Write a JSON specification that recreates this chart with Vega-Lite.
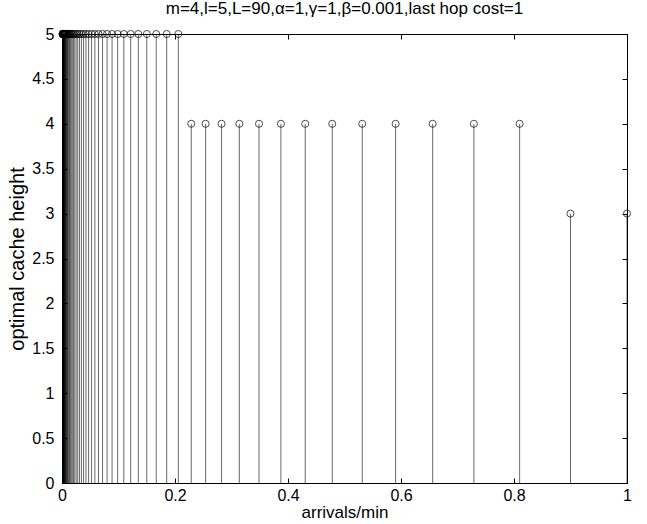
{
  "$schema": "https://vega.github.io/schema/vega-lite/v6.json",
  "width": 565,
  "height": 449,
  "autosize": {"type": "none"},
  "padding": {"left": 62, "top": 34, "right": 20, "bottom": 41},
  "background": "white",
  "title": {
    "text": "m=4,l=5,L=90,α=1,γ=1,β=0.001,last hop cost=1",
    "font": "Liberation Sans",
    "fontSize": 17,
    "fontWeight": "normal",
    "color": "black",
    "offset": 8
  },
  "config": {
    "view": {"stroke": "black", "strokeWidth": 1},
    "axis": {
      "labelFont": "Liberation Sans",
      "titleFont": "Liberation Sans",
      "labelFontSize": 16,
      "titleFontSize": 17,
      "titleFontWeight": "normal",
      "labelColor": "black",
      "titleColor": "black",
      "domainColor": "black",
      "tickColor": "black",
      "grid": false
    }
  },
  "data": {
    "values": [
      {"x": 1, "h": 3},
      {"x": 0.9, "h": 3},
      {"x": 0.81, "h": 4},
      {"x": 0.729, "h": 4},
      {"x": 0.6561, "h": 4},
      {"x": 0.59049, "h": 4},
      {"x": 0.531441, "h": 4},
      {"x": 0.4782969, "h": 4},
      {"x": 0.43046721, "h": 4},
      {"x": 0.387420489, "h": 4},
      {"x": 0.3486784401, "h": 4},
      {"x": 0.31381059609, "h": 4},
      {"x": 0.282429536, "h": 4},
      {"x": 0.254186583, "h": 4},
      {"x": 0.228767925, "h": 4},
      {"x": 0.205891132, "h": 5},
      {"x": 0.185302019, "h": 5},
      {"x": 0.166771817, "h": 5},
      {"x": 0.150094635, "h": 5},
      {"x": 0.135085172, "h": 5},
      {"x": 0.121576655, "h": 5},
      {"x": 0.109418989, "h": 5},
      {"x": 0.09847709, "h": 5},
      {"x": 0.088629381, "h": 5},
      {"x": 0.079766443, "h": 5},
      {"x": 0.071789799, "h": 5},
      {"x": 0.064610819, "h": 5},
      {"x": 0.058149737, "h": 5},
      {"x": 0.052334763, "h": 5},
      {"x": 0.047101287, "h": 5},
      {"x": 0.042391158, "h": 5},
      {"x": 0.038152042, "h": 5},
      {"x": 0.034336838, "h": 5},
      {"x": 0.030903154, "h": 5},
      {"x": 0.027812839, "h": 5},
      {"x": 0.025031555, "h": 5},
      {"x": 0.0225284, "h": 5},
      {"x": 0.02027556, "h": 5},
      {"x": 0.018248004, "h": 5},
      {"x": 0.016423203, "h": 5},
      {"x": 0.014780883, "h": 5},
      {"x": 0.013302795, "h": 5},
      {"x": 0.011972515, "h": 5},
      {"x": 0.010775264, "h": 5},
      {"x": 0.009697737, "h": 5},
      {"x": 0.008727964, "h": 5},
      {"x": 0.007855167, "h": 5},
      {"x": 0.00706965, "h": 5},
      {"x": 0.006362685, "h": 5},
      {"x": 0.005726417, "h": 5},
      {"x": 0.005153775, "h": 5},
      {"x": 0.004638398, "h": 5},
      {"x": 0.004174558, "h": 5},
      {"x": 0.003757102, "h": 5},
      {"x": 0.003381392, "h": 5},
      {"x": 0.003043253, "h": 5},
      {"x": 0.002738927, "h": 5},
      {"x": 0.002465035, "h": 5},
      {"x": 0.002218531, "h": 5},
      {"x": 0.001996678, "h": 5},
      {"x": 0.00179701, "h": 5},
      {"x": 0.001617309, "h": 5},
      {"x": 0.001455578, "h": 5},
      {"x": 0.00131002, "h": 5},
      {"x": 0.001179018, "h": 5},
      {"x": 0.001061116, "h": 5}
    ]
  },
  "layer": [
    {
      "mark": {"type": "rule", "color": "black", "strokeWidth": 0.6},
      "encoding": {
        "x": {
          "field": "x", "type": "quantitative",
          "scale": {"domain": [0, 1], "nice": false},
          "axis": {"orient": "bottom", "title": "arrivals/min", "values": [0, 0.2, 0.4, 0.6, 0.8, 1], "format": "~g", "tickSize": -5, "labelPadding": 9, "titlePadding": 1, "labelFlush": false}
        },
        "y": {
          "field": "h", "type": "quantitative",
          "scale": {"domain": [0, 5], "nice": false},
          "axis": {"orient": "left", "title": "optimal cache height", "titleFontSize": 20, "values": [0, 0.5, 1, 1.5, 2, 2.5, 3, 3.5, 4, 4.5, 5], "format": "~g", "tickSize": -5, "labelPadding": 13, "titlePadding": 4}
        },
        "y2": {"datum": 0}
      }
    },
    {
      "mark": {"type": "point", "shape": "circle", "filled": false, "color": "black", "size": 50, "strokeWidth": 1},
      "encoding": {
        "x": {
          "field": "x", "type": "quantitative",
          "axis": {"orient": "top", "title": null, "labels": false, "values": [0, 0.2, 0.4, 0.6, 0.8, 1], "tickSize": -5}
        },
        "y": {
          "field": "h", "type": "quantitative",
          "axis": {"orient": "right", "title": null, "labels": false, "values": [0, 0.5, 1, 1.5, 2, 2.5, 3, 3.5, 4, 4.5, 5], "tickSize": -5}
        }
      }
    }
  ],
  "resolve": {"axis": {"x": "independent", "y": "independent"}}
}
